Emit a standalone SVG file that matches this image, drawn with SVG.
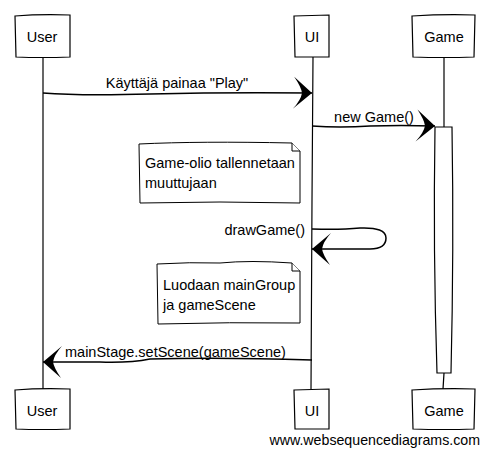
<svg xmlns="http://www.w3.org/2000/svg" width="490" height="455" viewBox="0 0 490 455">
<style>
.box{fill:#fff;stroke:#000;stroke-width:1.2}
.ln{fill:none;stroke:#000;stroke-width:1.2}
.msg{fill:none;stroke:#000;stroke-width:1.5}
.t{font-family:"Liberation Sans",Arial,sans-serif;font-size:14.5px;fill:#000}
.w{font-family:"Liberation Sans",Arial,sans-serif;font-size:14.2px;fill:#000}
.note{fill:#fff;stroke:#000;stroke-width:1}
</style>
<defs>
<marker id="ah" viewBox="-22 -17 24 34" refX="0" refY="0" markerWidth="24" markerHeight="34" markerUnits="userSpaceOnUse" orient="auto">
<path d="M0,0 L-18,-16 Q-11,-6 -10,0 Q-11,7 -19,16 Z" fill="#000"/>
</marker>
</defs>
<rect width="490" height="455" fill="#fff"/>
<g id="lifelines">
<path class="ln" d="M43,57 L43,389"/>
<path class="ln" d="M313,57 L312,200 L311,389"/>
<path class="ln" d="M444,57 L444,127"/>
<path class="ln" d="M444,373 L443,389"/>
</g>
<g id="activation">
<path class="box" d="M435,127 L452,127 Q454,250 451,373 L437,373 Q433,250 435,127 Z"/>
</g>
<g id="User">
<path class="box" d="M15,16 Q40,14 70,15 L70,57 Q42,58 16,57 Z"/>
<text class="t" x="42" y="42" text-anchor="middle">User</text>
</g>
<g id="UI">
<path class="box" d="M294,16 L329,15 L329,57 L295,57 Z"/>
<text class="t" x="312" y="42" text-anchor="middle">UI</text>
</g>
<g id="Game">
<path class="box" d="M412,16 Q444,14 475,15 L474,57 Q444,58 413,57 Z"/>
<text class="t" x="444" y="42" text-anchor="middle">Game</text>
</g>
<g id="User-bottom">
<path class="box" d="M15,390 Q40,388 70,389 L70,429 Q42,430 16,429 Z"/>
<text class="t" x="42" y="416" text-anchor="middle">User</text>
</g>
<g id="UI-bottom">
<path class="box" d="M294,390 L329,389 L329,429 L295,429 Z"/>
<text class="t" x="312" y="416" text-anchor="middle">UI</text>
</g>
<g id="Game-bottom">
<path class="box" d="M412,390 Q444,388 475,389 L474,429 Q444,430 413,429 Z"/>
<text class="t" x="444" y="416" text-anchor="middle">Game</text>
</g>
<g id="note1">
<path class="note" d="M139,144 Q200,141 292,143 L300,151 L300,203 Q220,201 140,203 Z"/>
<path class="note" d="M292,143 L292,151 L300,151"/>
<text class="t" x="145" y="168">Game-olio tallennetaan</text>
<text class="t" x="145" y="188">muuttujaan</text>
</g>
<g id="note2">
<path class="note" d="M157,264 Q190,262 220,263 Q250,260 292,263 L300,271 L300,323 Q230,322 158,324 Z"/>
<path class="note" d="M292,263 L292,271 L300,271"/>
<text class="t" x="163" y="290">Luodaan mainGroup</text>
<text class="t" x="163" y="310">ja gameScene</text>
</g>
<g id="connectors">
<path class="msg" d="M43,93 Q80,96 150,94 Q230,92 312,93" marker-end="url(#ah)"/>
<text class="t" x="177" y="88" text-anchor="middle">Käyttäjä painaa "Play"</text>
<path class="msg" d="M312,126 Q340,128 370,126 Q400,125 435,126" marker-end="url(#ah)"/>
<text class="t" x="374" y="122" text-anchor="middle">new Game()</text>
<path class="msg" d="M312,229 Q340,230 360,228 Q386,227 386,238 Q386,249 370,249 L312,249" marker-end="url(#ah)"/>
<text class="t" x="305" y="235" text-anchor="end">drawGame()</text>
<path class="msg" d="M312,360 Q220,357 150,359 Q130,363 100,362 L43,362" marker-end="url(#ah)"/>
<text class="t" x="65" y="357">mainStage.setScene(gameScene)</text>
</g>
<text class="w" x="480" y="445" text-anchor="end">www.websequencediagrams.com</text>
</svg>
